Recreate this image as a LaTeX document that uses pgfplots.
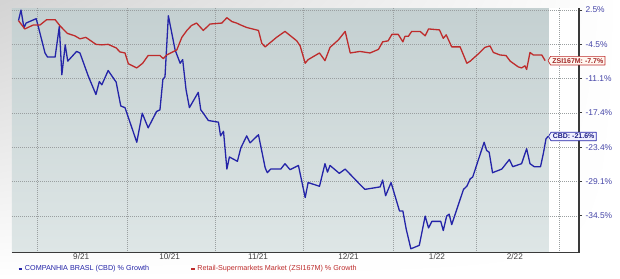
\documentclass[border=0pt]{standalone}
\usepackage{pgfplots}
\pgfplotsset{compat=1.18}
\usepackage{pgfplotstable}
\usepackage{fontspec}
\setmainfont{Liberation Sans}
\usetikzlibrary{shapes.symbols,shadings}
\definecolor{cbdblue}{HTML}{2424A8}
\definecolor{zsired}{HTML}{BE2C2C}
\definecolor{ticklab}{HTML}{4646A8}
\definecolor{bgtop}{HTML}{C4D0D1}
\definecolor{bgbot}{HTML}{DEE6E6}
\definecolor{axisdark}{HTML}{3A3A3A}
\definecolor{gridgray}{HTML}{9A9FA0}

% d = trading days since 1 Sep 2021, g = % growth
\pgfplotstableread{
d g
-4.4 0.3
-3.8 2.5
-3.1 -1.2
-2.6 -0.2
-0.2 0.7
0.3 -0.9
1.9 -6.2
2.5 -7.0
4.3 -7.0
5.3 -0.9
5.9 -10.4
6.7 -4.6
7.3 -7.8
9.4 -5.9
10.2 -6.2
12.2 -10.7
14.0 -14.1
14.8 -11.7
15.4 -12.3
16.9 -9.6
18.8 -11.8
19.9 -16.2
20.9 -16.5
23.7 -22.6
25.0 -17.5
26.4 -20.1
28.4 -17.2
29.2 -16.9
29.9 -11.3
30.4 -10.8
31.2 1.3
32.8 -5.6
34.0 -8.2
34.6 -7.5
35.4 -13.2
36.2 -16.5
38.3 -13.7
38.9 -16.9
39.5 -17.5
40.7 -18.8
43.1 -19.1
43.6 -21.5
44.3 -20.7
45.1 -27.1
45.7 -25.1
47.6 -25.8
48.4 -23.6
49.8 -21.5
50.6 -22.7
52.6 -21.3
54.2 -26.9
54.7 -27.7
55.5 -27.1
57.9 -27.1
58.9 -26.2
60.1 -27.2
62.1 -26.5
63.7 -31.7
64.4 -29.3
67.1 -29.9
68.4 -26.2
69.0 -27.6
69.6 -26.5
71.8 -27.8
73.2 -27.1
76.7 -29.6
77.9 -30.4
81.5 -30.0
82.1 -28.9
82.8 -31.4
84.1 -29.3
86.1 -33.8
86.9 -33.8
87.7 -36.6
88.8 -39.5
90.8 -39.0
92.2 -34.6
93.0 -36.4
93.8 -35.4
95.9 -35.4
96.5 -36.8
97.3 -34.6
97.9 -34.3
98.5 -35.9
101.3 -30.4
102.1 -29.9
102.9 -28.7
103.5 -28.4
106.2 -22.6
106.8 -24.0
107.4 -24.3
108.2 -27.7
110.4 -27.1
112.2 -25.5
113.0 -26.7
115.1 -26.2
116.3 -23.7
117.1 -26.2
118.1 -26.7
119.6 -26.7
120.3 -24.4
120.9 -22.0
121.4 -21.6
}\cbd

\pgfplotstableread{
d g
-4.4 0.3
-2.9 -1.4
-0.9 -0.6
0.7 -0.6
2.3 0.5
4.3 0.5
5.5 -0.8
7.2 -2.3
9.0 -2.8
10.2 -3.4
11.6 -3.1
14.0 -4.5
15.4 -4.6
16.9 -4.5
18.8 -5.2
19.7 -6.0
20.9 -6.2
21.7 -8.3
23.7 -9.1
25.1 -8.2
26.4 -6.7
29.2 -6.7
30.0 -7.3
30.8 -6.6
33.2 -5.6
34.4 -3.1
35.6 -1.7
36.7 -0.7
37.9 -0.2
39.5 -1.7
41.1 -0.4
43.9 -0.2
45.1 0.9
46.3 0.1
47.4 -0.2
48.4 -0.6
49.8 -1.1
52.6 -1.7
53.4 -4.3
54.2 -5.0
54.9 -4.5
56.9 -3.1
58.9 -1.9
61.7 -3.8
62.5 -4.8
63.7 -8.2
64.4 -7.5
67.1 -6.2
68.4 -7.7
69.6 -5.1
71.6 -3.6
73.2 -1.9
74.4 -6.2
76.7 -5.9
79.1 -6.2
81.1 -5.5
82.1 -4.0
83.4 -3.8
84.3 -2.5
85.8 -2.5
86.9 -4.0
87.4 -2.9
88.2 -2.9
89.0 -1.9
91.0 -1.9
92.2 -2.8
93.0 -1.4
95.6 -1.6
96.5 -3.3
97.2 -2.6
98.5 -5.0
100.5 -5.0
102.1 -8.2
102.9 -7.8
104.8 -6.4
106.4 -5.1
107.6 -4.8
108.4 -6.1
110.0 -6.6
111.4 -6.7
112.4 -7.8
114.3 -8.9
115.1 -9.1
115.9 -8.7
116.3 -9.4
117.1 -6.1
117.9 -6.6
119.9 -6.6
120.7 -7.7
}\zsi

% the chart's scale: growth g is drawn at ln((g+137.5)/140)/0.051293 (evenly spaced grid steps)
\begin{document}
\begin{tikzpicture}
\begin{axis}[
  set layers,
  scale only axis, width=567pt, height=244.4pt,
  xmin=-5.94, xmax=128.74,
  ymin=-7.07, ymax=0.05,
  axis x line=bottom, axis y line=right,
  axis line style={-, draw=axisdark, line width=1.4pt},
  xtick={10.5,31.5,52.5,74,95,113.5},
  xticklabels={9/21,10/21,11/21,12/21,1/22,2/22},
  minor xtick={0,21.4,42.3,63.3,84.6,104.3,124},
  xtick style={draw=none},
  minor tick length=0pt,
  xmajorgrids=false, xminorgrids=true, ymajorgrids=false,
  minor grid style={draw=gridgray, line width=0.8pt, dash pattern=on 1pt off 1pt},
  ytick={0,-1,-2,-3,-4,-5,-6},
  yticklabels={2.5\%,-4.5\%,-11.1\%,-17.4\%,-23.4\%,-29.1\%,-34.5\%},
  ytick style={draw=axisdark, line width=1pt},
  major tick length=3pt,
  tick align=outside,
  yticklabel style={font=\fontsize{8.4}{9}\selectfont, text=ticklab},
  xticklabel style={font=\fontsize{8.2}{9}\selectfont, text=black!75, yshift=5.5pt},
  legend style={at={(0.010,-0.066)}, anchor=west, draw=none, fill=none,
    font=\fontsize{7.2}{8}\selectfont, inner sep=0pt,
    /tikz/every even column/.append style={column sep=39pt}},
  legend columns=2,
  legend image code/.code={\draw[#1, line width=1.6pt] (0pt,0pt) -- (3.5pt,0pt);},
  clip=false,
]
\begin{pgfonlayer}{axis background}
% whole canvas (620 x 278)
\shade[upper left=black!17, upper right=white, lower left=white, lower right=white]
  (rel axis cs:-0.021164,-0.103519) rectangle (rel axis cs:1.072310,1.033960);
\fill[white] (axis cs:121.6,-7.07) rectangle (axis cs:128.74,0.05);
\shade[top color=bgtop, bottom color=bgbot] (axis cs:-5.94,-7.07) rectangle (axis cs:121.6,0.05);
% horizontal grid lines at the y ticks
\pgfplotsinvokeforeach{0,-1,-2,-3,-4,-5,-6}{
  \draw[gridgray, line width=0.8pt, dash pattern=on 1pt off 1pt] (axis cs:-5.94,#1) -- (axis cs:128.74,#1);
}
\end{pgfonlayer}
\addplot[cbdblue, line width=1.3pt, line join=round] table[x=d, y expr={ln((\thisrow{g}+137.5)/140)/0.051293}] {\cbd}
  node[pos=1, anchor=west, signal, signal to=west, signal pointer angle=120,
       draw=cbdblue, line width=0.7pt, fill=blue!6, text=cbdblue!80!black,
       font=\bfseries\fontsize{7}{8}\selectfont, inner sep=1.8pt, xshift=0pt] {CBD: -21.6\%};
\addlegendentry{\textcolor{cbdblue}{COMPANHIA BRASL (CBD) \% Growth}}
\addplot[zsired, line width=1.3pt, line join=round] table[x=d, y expr={ln((\thisrow{g}+137.5)/140)/0.051293}] {\zsi}
  node[pos=1, anchor=west, signal, signal to=west, signal pointer angle=120,
       draw=zsired, line width=0.7pt, fill=orange!6, text=zsired!85!black,
       font=\bfseries\fontsize{7}{8}\selectfont, inner sep=1.8pt, xshift=2.5pt] {ZSI167M: -7.7\%};
\addlegendentry{\textcolor{zsired}{Retail-Supermarkets Market (ZSI167M) \% Growth}}
\end{axis}
\end{tikzpicture}
\end{document}
